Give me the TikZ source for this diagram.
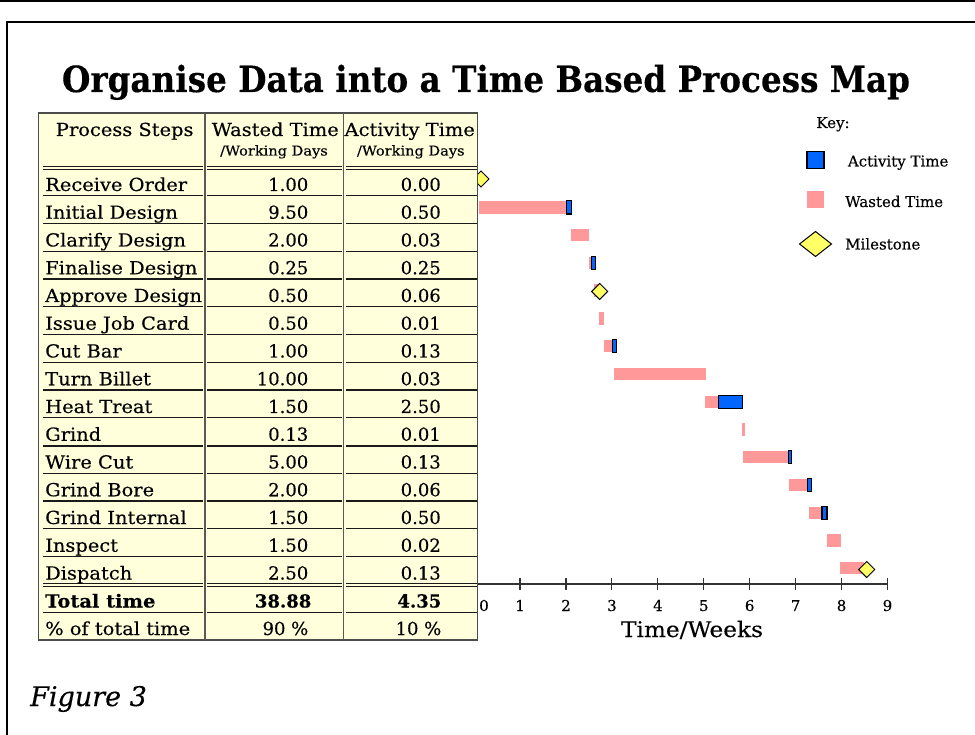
\documentclass[tikz,border=0pt]{standalone}
\usepackage{fontspec}
\setmainfont{DejaVu Serif}[FakeBold=0.3]
\newfontfamily\labfam{DejaVu Serif}[FakeStretch=1.08,FakeBold=0.3]
\definecolor{cream}{HTML}{FFFFDC}
\definecolor{waste}{HTML}{FF9999}
\definecolor{act}{HTML}{0066FF}
\definecolor{mile}{HTML}{FFFF66}
\definecolor{tline}{HTML}{1A1A1A}
\newcommand\tabf{\fontsize{18}{20}\selectfont}
\newcommand\smallf{\fontsize{13.5}{15}\selectfont}
\newcommand\keyf{\fontsize{15}{17}\selectfont}
\newcommand\Wbar[3]{\fill[waste] (#1,{179.7+27.75*#3-6.2}) rectangle (#2,{179.7+27.75*#3+6.2});}
\newcommand\Abar[3]{\filldraw[fill=act,draw=black,line width=1.1pt] (#1,{179.7+27.75*#3-6.6}) rectangle (#2,{179.7+27.75*#3+6.6});}
\newcommand\Mile[4]{\filldraw[fill=mile,draw=black,line width=1pt] (#1-#3,#2)--(#1,#2-#4)--(#1+#3,#2)--(#1,#2+#4)--cycle;}
\begin{document}
\begin{tikzpicture}[x=1pt,y=-1pt,
  lbl/.style={inner sep=0pt,anchor=base west,font=\labfam\tabf},
  num/.style={inner sep=0pt,anchor=base east,font=\tabf},
  hdr/.style={inner sep=0pt,anchor=base,font=\labfam\tabf},
  sub/.style={inner sep=0pt,anchor=base,font=\labfam\smallf},
  keytxt/.style={inner sep=0pt,anchor=base west,font=\keyf},
  rowline/.style={draw=tline,line width=1.2pt}]
\useasboundingbox (0,0) rectangle (975,735);
\fill[white] (0,0) rectangle (975,735);
% frame
\draw[line width=2.5pt] (0,1) -- (975,1);
\draw[line width=2pt] (7,740) -- (7,22) -- (980,22);
% title
\node[inner sep=0pt,anchor=base] (title) at (486,92)
  {\resizebox{848pt}{\height}{\fontsize{36}{40}\selectfont\bfseries Organise Data into a Time Based Process Map}};
% chart bars
\Mile{481}{179}{8}{8}
\Wbar{479}{566.7}{1} \Abar{566.7}{571.7}{1}
\Wbar{571}{589}{2}
\Wbar{589}{591.7}{3} \Abar{591.7}{595.7}{3}
\Wbar{594}{598}{4} \Mile{599.7}{291.5}{8}{8}
\Wbar{599}{604}{5}
\Wbar{604}{612.3}{6} \Abar{612.3}{616.3}{6}
\Wbar{614}{706}{7}
\Wbar{705}{718.3}{8} \Abar{718.3}{742.7}{8}
\Wbar{742}{745}{9}
\Wbar{743}{788.3}{10} \Abar{788.3}{791.7}{10}
\Wbar{789}{807.7}{11} \Abar{807.7}{811.7}{11}
\Wbar{809}{822}{12} \Abar{822}{827}{12}
\Wbar{827}{841}{13}
\Wbar{840}{863.5}{14} \Mile{866.7}{569.5}{8}{8}
% axis
\draw[line width=1.2pt,draw=black!80] (478,584) -- (887.5,584);
\foreach \k in {1,...,9}{
  \draw[line width=1.2pt,draw=black!80] ({474.1+45.93*\k},578) -- ({474.1+45.93*\k},589.5);
  \node[inner sep=0pt,anchor=base,font=\keyf] (t\k) at ({474.1+45.93*\k},611) {\k};
}
\node[inner sep=0pt,anchor=base,font=\keyf] (t0) at (484,611) {0};
\node[inner sep=0pt,anchor=base,font=\labfam\fontsize{21.5}{24}\selectfont] (xlab) at (692,637) {Time/Weeks};
% table
\filldraw[fill=cream,draw=black!70,line width=1.5pt] (38.3,113) rectangle (477.7,640);
\draw[draw=black!65,line width=1.3pt] (205,113) -- (205,640);
\draw[draw=black!65,line width=1.3pt] (343.5,113) -- (343.5,640);
\node[hdr] (h1) at (124.7,136) {Process Steps};
\node[hdr] (h2) at (275.3,136) {Wasted Time};
\node[hdr] (h3) at (409.7,136) {Activity Time};
\node[sub] (h2s) at (274,155.5) {/Working Days};
\node[sub] (h3s) at (410.8,155.5) {/Working Days};
\foreach \yy in {166.5,169.5,583.5,586.5}{
  \draw[draw=tline,line width=1.1pt] (43,\yy) -- (203,\yy) (207,\yy) -- (341.5,\yy) (345.5,\yy) -- (476.5,\yy);
}
\foreach \i in {0,...,13}{
  \draw[rowline] (43,{195.7+27.75*\i}) -- (203,{195.7+27.75*\i}) (207,{195.7+27.75*\i}) -- (341.5,{195.7+27.75*\i}) (345.5,{195.7+27.75*\i}) -- (476.5,{195.7+27.75*\i});
}
\draw[draw=tline,line width=1.2pt] (43,612.5) -- (203,612.5) (207,612.5) -- (341.5,612.5) (345.5,612.5) -- (476.5,612.5);
\draw[draw=tline,line width=2pt] (43,445.5) -- (203,445.5) (207,445.5) -- (341.5,445.5) (345.5,445.5) -- (476.5,445.5);
\foreach \n/\w/\a [count=\i from 0] in {Receive Order/1.00/0.00, Initial Design/9.50/0.50, Clarify Design/2.00/0.03, Finalise Design/0.25/0.25, Approve Design/0.50/0.06, Issue Job Card/0.50/0.01, Cut Bar/1.00/0.13, Turn Billet/10.00/0.03, Heat Treat/1.50/2.50, Grind/0.13/0.01, Wire Cut/5.00/0.13, Grind Bore/2.00/0.06, Grind Internal/1.50/0.50, Inspect/1.50/0.02, Dispatch/2.50/0.13}{
  \node[lbl] (s\i) at (45,{191+27.75*\i}) {\n};
  \node[num] (w\i) at (308.5,{191+27.75*\i}) {\w};
  \node[num] (a\i) at (441,{191+27.75*\i}) {\a};
}
\node[lbl,font=\labfam\tabf\bfseries] (tot) at (45,607.5) {Total time};
\node[num,font=\tabf\bfseries] (totw) at (311.5,607.5) {38.88};
\node[num,font=\tabf\bfseries] (tota) at (441.5,607.5) {4.35};
\node[lbl] (pct) at (45,635) {\% of total time};
\node[num] (pctw) at (308.5,635) {90 \%};
\node[num] (pcta) at (441.5,635) {10 \%};
% key
\node[inner sep=0pt,anchor=base,font=\keyf] (key) at (833,128) {Key:};
\filldraw[fill=act,draw=black,line width=1.1pt] (807,151.5) rectangle (824,168.3);
\fill[waste] (807,190.7) rectangle (824,207.7);
\Mile{815.5}{244}{16}{12.5}
\node[keytxt] (kact) at (847.7,166.5) {Activity Time};
\node[keytxt] (kwas) at (845,207) {Wasted Time};
\node[keytxt] (kmil) at (845,249.5) {Milestone};
% figure label
\node[inner sep=0pt,anchor=base west,font=\fontsize{27}{30}\selectfont\itshape] (fig) at (30,706) {Figure 3};
\end{tikzpicture}
\end{document}
